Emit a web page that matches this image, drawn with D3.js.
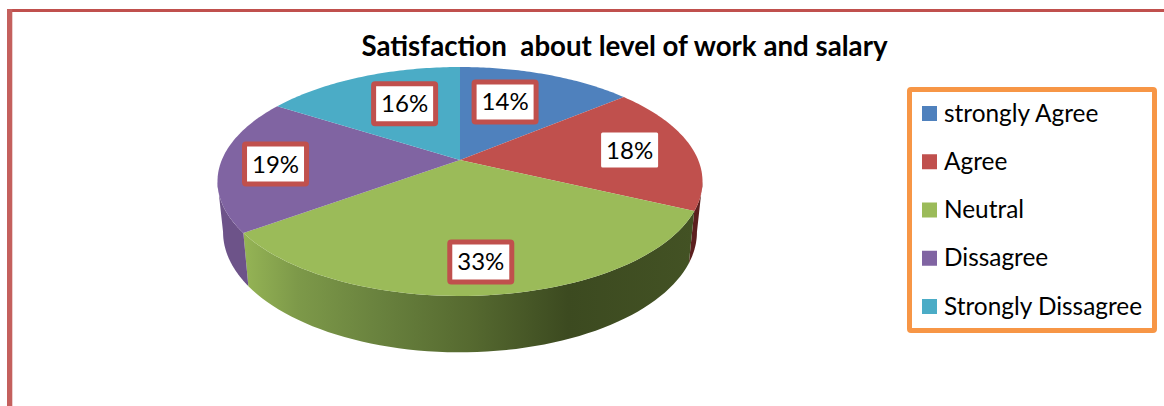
<!DOCTYPE html>
<html>
<head>
<meta charset="utf-8">
<script src="https://cdnjs.cloudflare.com/ajax/libs/d3/7.8.5/d3.min.js"></script>
<style>
  html, body { margin: 0; padding: 0; background: #fff; }
  svg { display: block; }
  text { font-family: Lato, "Open Sans", sans-serif; fill: #000; white-space: pre; }
</style>
</head>
<body>
<svg id="chart" width="1164" height="406"></svg>
<script>
// Survey results
const chartTitle = "Satisfaction  about level of work and salary";
const categories = ["strongly Agree", "Agree", "Neutral", "Dissagree", "Strongly Dissagree"];
const percentages = [14, 18, 33, 19, 16];
const sliceColors = ["#4f81bd", "#c0504d", "#9bbb59", "#8064a2", "#4bacc6"];
const wallColors = ["#3a5a82", "#5c1f1e", "url(#greenWall)", "#6d5389", "#37808f"];
const framedLabels = [true, false, true, true, true];

// Label placement inside each slice: fraction of the radius and turn from the slice's middle
const labelRadius = [0.62, 0.73, 0.79, 0.77, 0.62];
const labelTurn = [-5.4, 0, 0, -0.9, 4.3];

const svg = d3.select("#chart");
const defs = svg.append("defs");

// Perspective view of a disc: the hub sits above the centre of the rim's ellipse
const hub = { x: 460, y: 160 };
const tilt = 0.1878, spanX = 238.2, spanY = 110.46;
const project = (angle, r = 1) => {
  const u = r * Math.sin(angle), v = r * Math.cos(angle), w = 1 + tilt * v;
  return [hub.x + spanX * u / w, hub.y - spanY * v / w];
};
// The underside of the disc is slightly smaller and further down
const lower = ([x, y]) => [hub.x + 0.977 * (x - hub.x), 209.5 + 1.05 * (y - hub.y)];

const line = d3.line();
const pie = d3.pie().sort(null).value(d => d);
const arcs = pie(percentages);
const angleSamples = (a0, a1) => d3.range(0, 61).map(i => a0 + (a1 - a0) * i / 60);

// Frame lines along the top and left of the page
svg.append("rect").attr("x", 7).attr("y", 9).attr("width", 1157).attr("height", 3).attr("fill", "#c0504d");
svg.append("rect").attr("x", 7).attr("y", 9).attr("width", 5.3).attr("height", 397).attr("fill", "#c4605d");

// Shaded side of the neutral slice
const greenStops = [[0, "#95b455"], [0.12, "#7d9949"], [0.3, "#69823e"], [0.5, "#566a30"], [0.72, "#3c4a20"], [1, "#435224"]];
const gradient = defs.append("linearGradient").attr("id", "greenWall");
gradient.selectAll("stop").data(greenStops).join("stop")
  .attr("offset", d => d[0]).attr("stop-color", d => d[1]);

// Visible outer wall: only the part of the rim that faces the viewer
const wallStart = Math.acos(-tilt), wallEnd = 2 * Math.PI - wallStart;
arcs.forEach((d, i) => {
  const a0 = Math.max(d.startAngle, wallStart), a1 = Math.min(d.endAngle, wallEnd);
  if (a1 <= a0) return;
  const rim = angleSamples(a0, a1).map(a => project(a));
  svg.append("path")
    .attr("d", line(rim.concat(rim.map(lower).reverse())) + "Z")
    .attr("fill", wallColors[i]);
});

// Top face of the pie
svg.selectAll("path.slice").data(arcs).join("path")
  .attr("class", "slice")
  .attr("d", d => line([[hub.x, hub.y], ...angleSamples(d.startAngle, d.endAngle).map(a => project(a))]) + "Z")
  .attr("fill", (d, i) => sliceColors[i]);

// Percentage labels
const boxW = 62, boxH = 40;
arcs.forEach((d, i) => {
  const mid = (d.startAngle + d.endAngle) / 2 + labelTurn[i] * Math.PI / 180;
  const [x, y] = project(mid, labelRadius[i]);
  const framed = framedLabels[i];
  svg.append("rect")
    .attr("x", x - boxW / 2).attr("y", y - boxH / 2)
    .attr("width", framed ? boxW : boxW - 5).attr("height", framed ? boxH : boxH - 5)
    .attr("transform", framed ? null : "translate(2.5,2.5)")
    .attr("rx", 1.5)
    .attr("fill", "#fff")
    .attr("stroke", framed ? "#c0504d" : "none")
    .attr("stroke-width", 5);
  svg.append("text")
    .attr("x", x).attr("y", y + 8.5)
    .attr("text-anchor", "middle")
    .attr("font-size", 24)
    .text(percentages[i] + "%");
});

// Title
svg.append("text")
  .attr("x", 624.5).attr("y", 56)
  .attr("text-anchor", "middle")
  .attr("font-size", 27.7)
  .attr("font-weight", 700)
  .text(chartTitle);

// Legend
const legendBox = { x: 909.5, y: 89.5, w: 245, h: 241 };
svg.append("rect")
  .attr("x", legendBox.x).attr("y", legendBox.y)
  .attr("width", legendBox.w).attr("height", legendBox.h)
  .attr("rx", 1.5)
  .attr("fill", "#fff").attr("stroke", "#f79646").attr("stroke-width", 5);

const legendRow = d3.scalePoint().domain(categories).range([113.5, 306.5]);
const rows = svg.selectAll("g.legend-row").data(categories).join("g")
  .attr("class", "legend-row")
  .attr("transform", d => `translate(922,${legendRow(d)})`);
rows.append("rect")
  .attr("y", -7.5).attr("width", 15).attr("height", 15)
  .attr("fill", (d, i) => sliceColors[i]);
rows.append("text")
  .attr("x", 22).attr("y", 8)
  .attr("font-size", 24.4)
  .text(d => d);
</script>
</body>
</html>
